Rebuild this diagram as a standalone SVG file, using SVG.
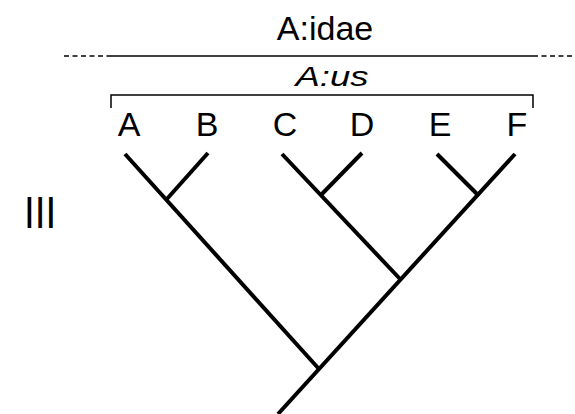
<svg xmlns="http://www.w3.org/2000/svg" width="575" height="414" viewBox="0 0 575 414">
<style>
text{font-family:"Liberation Sans",Arial,sans-serif;fill:#000}
.tip{font-size:34px;text-anchor:middle}
.br{stroke:#000;stroke-width:4;fill:none;stroke-linecap:butt}
.rule{stroke:#000;stroke-width:1.5;fill:none}
</style>
<rect width="575" height="414" fill="#fff"/>
<g id="family">
<text x="325" y="40" font-size="34" text-anchor="middle">A:idae</text>
<line class="rule" x1="110" y1="56" x2="533" y2="56"/>
<line class="rule" x1="64" y1="56" x2="110" y2="56" stroke-dasharray="5,3.5"/>
<line class="rule" x1="533" y1="56" x2="575" y2="56" stroke-dasharray="5,3.5"/>
</g>
<g id="genus">
<text transform="translate(332,86) scale(1.35,1)" font-size="27" font-style="italic" text-anchor="middle">A:us</text>
<polyline class="rule" points="111,108 111,95 533,95 533,108"/>
</g>
<g id="numeral"><text transform="translate(24,228) scale(0.88,1)" font-size="44">III</text></g>
<g id="tipA"><text class="tip" x="129" y="136">A</text></g>
<g id="tipB"><text class="tip" x="207" y="136">B</text></g>
<g id="tipC"><text class="tip" x="285" y="136">C</text></g>
<g id="tipD"><text class="tip" x="362" y="136">D</text></g>
<g id="tipE"><text class="tip" x="440" y="136">E</text></g>
<g id="tipF"><text class="tip" x="517" y="136">F</text></g>
<g id="connectors">
<line class="br" x1="125" y1="154" x2="319" y2="369"/>
<line class="br" x1="278" y1="414" x2="515" y2="154"/>
<line class="br" x1="166" y1="200" x2="208" y2="153"/>
<line class="br" x1="282" y1="154" x2="401" y2="280"/>
<line class="br" x1="320" y1="196" x2="362" y2="153"/>
<line class="br" x1="437" y1="154" x2="479" y2="196"/>
</g>
</svg>
